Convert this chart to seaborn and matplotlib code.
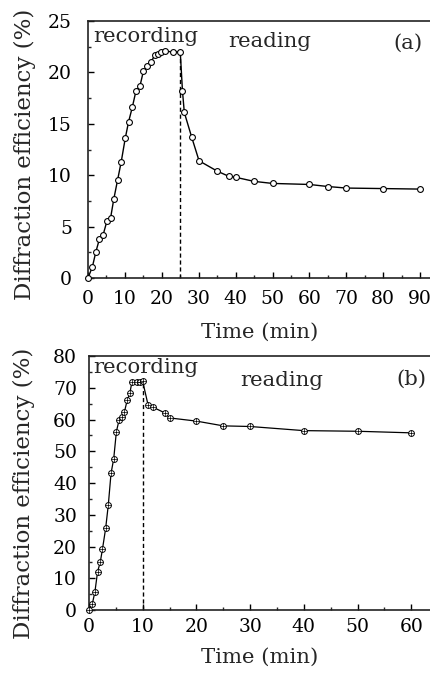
import numpy as np
import matplotlib
matplotlib.use("Agg")
import matplotlib.pyplot as plt
import seaborn as sns
from matplotlib.ticker import MultipleLocator

# panel (a) data
time_a = [0, 1.2, 2.1, 3.1, 4.1, 5.1, 6.1, 7.0, 8.0, 9.0, 10.1, 11.0, 12.0, 13.0,
          14.1, 15.0, 16.1, 17.1, 18.1, 19.0, 19.9, 21.0, 23.0, 25.0,
          25.6, 26.1, 28.1, 30.1, 35.0, 38.1, 40.0, 45.0, 50.0, 60.0, 65.0, 70.0, 80.0, 90.0]
eff_a = [0, 1.1, 2.5, 3.8, 4.2, 5.5, 5.8, 7.7, 9.5, 11.3, 13.6, 15.2, 16.6, 18.2,
         18.7, 20.1, 20.6, 21.0, 21.7, 21.8, 22.0, 22.05, 22.0, 22.0,
         18.2, 16.1, 13.7, 11.4, 10.4, 9.9, 9.8, 9.4, 9.2, 9.1, 8.9, 8.75, 8.7, 8.65]
switch_a = 25.0

# panel (b) data
time_b = [0, 0.6, 1.1, 1.6, 2.1, 2.5, 3.1, 3.6, 4.1, 4.6, 5.1, 5.6, 6.1, 6.6, 7.1, 7.6,
          8.0, 9.0, 9.5, 10.0, 11.0, 12.0, 14.1, 15.0, 20.0, 25.0, 30.0, 40.0, 50.0, 60.0]
eff_b = [0, 1.8, 5.7, 12.1, 15.1, 19.1, 25.7, 33.2, 43.0, 47.6, 56.2, 59.8, 60.7, 62.4,
         66.0, 68.2, 71.9, 71.9, 71.9, 72.0, 64.6, 63.8, 62.1, 60.5, 59.5, 58.0, 57.8,
         56.5, 56.3, 55.8]
switch_b = 10.0

sns.set_style("ticks")
plt.rcParams['font.family'] = ['DejaVu Serif']

fig = plt.figure(figsize=(4.31, 6.73), dpi=100)
ax_a = fig.add_axes([88/431, 0.5869, 343/431, 0.3819])
ax_b = fig.add_axes([89/431, 0.0936, 342/431, 0.3774])


def style_axis(ax, xmax, ymax, xmaj, ymaj, xpad, ypad):
    ax.set_xlim(0, xmax)
    ax.set_ylim(0, ymax)
    ax.xaxis.set_major_locator(MultipleLocator(xmaj))
    ax.xaxis.set_minor_locator(MultipleLocator(xmaj / 2))
    ax.yaxis.set_major_locator(MultipleLocator(ymaj))
    ax.yaxis.set_minor_locator(MultipleLocator(ymaj / 2))
    ax.tick_params(which="major", direction="in", length=4.5, width=1, labelsize=13.5,
                   top=False, right=False, colors="black")
    ax.tick_params(which="minor", direction="in", length=2.5, width=1,
                   top=False, right=False)
    ax.tick_params(axis="x", which="major", pad=xpad)
    ax.tick_params(axis="y", which="major", pad=ypad)
    ax.spines["right"].set_visible(False)
    for s in ["left", "bottom", "top"]:
        ax.spines[s].set_linewidth(1.2)
        ax.spines[s].set_color("#222222")
    ax.set_xlabel("Time (min)", fontsize=15.3)
    ax.set_ylabel("Diffraction efficiency (%)", fontsize=16.5)
    ax.xaxis.label.set_va("center")
    ax.yaxis.label.set_va("center")


# (a)
sns.lineplot(x=time_a, y=eff_a, ax=ax_a, estimator=None, sort=False, color="black",
             linewidth=1, marker="o", markersize=4.2, markerfacecolor="white",
             markeredgecolor="black", markeredgewidth=0.8, zorder=3, clip_on=False)
peak_a = eff_a[time_a.index(switch_a)]
ax_a.plot([switch_a, switch_a], [0, peak_a], ls=(0, (3, 2)), color="black", lw=1, zorder=2)
style_axis(ax_a, (431 - 88) / 3.69, 25, 10, 5, xpad=8.5, ypad=11.5)
ax_a.text(1.4, 23.5, "recording", fontsize=15.3, va="center", ha="left")
ax_a.text(49.3, 23.0, "reading", fontsize=15.3, va="center", ha="center")
ax_a.text(86.7, 22.8, "(a)", fontsize=15.3, va="center", ha="center")
ax_a.yaxis.set_label_coords(-0.184, 0.48)
ax_a.xaxis.set_label_coords(0.5, -0.21)

# (b)
sns.lineplot(x=time_b, y=eff_b, ax=ax_b, estimator=None, sort=False, color="black",
             linewidth=0.9, marker="o", markersize=4.2, markerfacecolor="white",
             markeredgecolor="black", markeredgewidth=0.7, zorder=3, clip_on=False)
ax_b.plot(time_b, eff_b, ls="none", marker="+", markersize=4.2, color="black",
          markeredgewidth=0.5, zorder=4, clip_on=False)
peak_b = eff_b[time_b.index(switch_b)]
ax_b.plot([switch_b, switch_b], [0, peak_b], ls=(0, (3, 2)), color="black", lw=1, zorder=2)
style_axis(ax_b, (431 - 89) / 5.37, 80, 10, 10, xpad=5.5, ypad=8.6)
ax_b.yaxis.set_minor_locator(MultipleLocator(5))
ax_b.text(0.75, 76.5, "recording", fontsize=15.3, va="center", ha="left")
ax_b.text(35.8, 72.4, "reading", fontsize=15.3, va="center", ha="center")
ax_b.text(60.0, 72.8, "(b)", fontsize=15.3, va="center", ha="center")
ax_b.yaxis.set_label_coords(-0.19, 0.46)
ax_b.xaxis.set_label_coords(0.5, -0.185)

fig.savefig("out.png", dpi=100)
